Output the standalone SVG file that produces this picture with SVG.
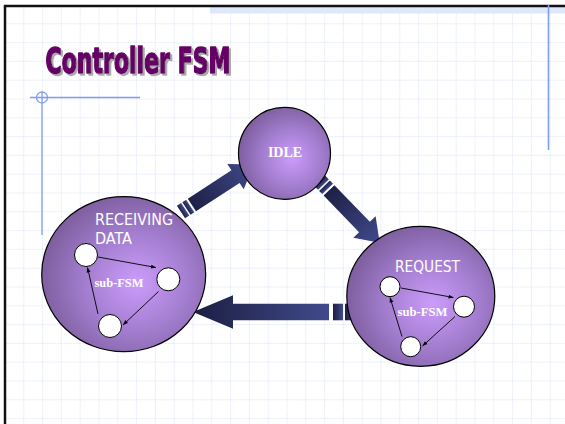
<svg xmlns="http://www.w3.org/2000/svg" width="565" height="424" viewBox="0 0 565 424">
  <defs>
    <pattern id="grid" x="4.5" y="4.5" width="18.8" height="18.8" patternUnits="userSpaceOnUse">
      <path d="M0,0.5 H18.8 M0.5,0 V18.8" fill="none" stroke="#e3e9f8" stroke-width="1" stroke-dasharray="1.5,1"/>
    </pattern>
    <radialGradient id="ball" cx="0.58" cy="0.55" r="0.6">
      <stop offset="0" stop-color="#cc9cfb"/>
      <stop offset="0.55" stop-color="#a17ccd"/>
      <stop offset="1" stop-color="#7c5d9c"/>
    </radialGradient>
    <linearGradient id="arrL2R" x1="0" y1="0" x2="1" y2="0">
      <stop offset="0" stop-color="#1e2046"/>
      <stop offset="1" stop-color="#414a8d"/>
    </linearGradient>
    <linearGradient id="arrR2L" x1="0" y1="0" x2="1" y2="0">
      <stop offset="0" stop-color="#414a8d"/>
      <stop offset="1" stop-color="#1c1e42"/>
    </linearGradient>
    <filter id="shadow" x="-5%" y="-20%" width="115%" height="150%">
      <feOffset in="SourceAlpha" dx="2" dy="2" result="off"/>
      <feFlood flood-color="#aaaaaa"/>
      <feComposite in2="off" operator="in" result="sh"/>
      <feMerge>
        <feMergeNode in="sh"/>
        <feMergeNode in="SourceGraphic"/>
      </feMerge>
    </filter>
    <marker id="tip" viewBox="0 0 10 10" refX="10" refY="5" markerWidth="5" markerHeight="5" markerUnits="userSpaceOnUse" orient="auto">
      <path d="M0,1 L10,5 L0,9 Z" fill="#000"/>
    </marker>
    <style>
      .sub { fill: #fff; stroke: #000; stroke-width: 1; }
      .subedge { stroke: #000; stroke-width: 0.9; fill: none; marker-end: url(#tip); }
      .ball { fill: url(#ball); stroke: #000; stroke-width: 1.2; }
      .lbl { font-family: "DejaVu Sans Condensed", "DejaVu Sans", sans-serif; fill: #fff; font-size: 15px; }
      .serif { font-family: "Liberation Serif", serif; font-weight: bold; fill: #fff; }
      .deco { stroke: #7f9df0; stroke-width: 1.3; fill: none; }
    </style>
  </defs>

  <!-- background -->
  <rect width="565" height="424" fill="#fff"/>
  <rect x="5" y="5" width="560" height="419" fill="url(#grid)"/>
  <rect x="210" y="7" width="355" height="6.5" fill="#dfe7fc"/>
  <line x1="4" y1="6" x2="565" y2="6" stroke="#111" stroke-width="2.5"/>
  <line x1="5" y1="5" x2="5" y2="424" stroke="#111" stroke-width="2.5"/>
  <line x1="548.5" y1="5" x2="548.5" y2="150" stroke="#7f9df0" stroke-width="1.6"/>
  <g id="decor-left">
    <line class="deco" x1="30" y1="97.5" x2="140" y2="97.5"/>
    <line class="deco" x1="42" y1="92" x2="42" y2="235"/>
    <circle class="deco" cx="42" cy="97.5" r="5.5"/>
  </g>

  <!-- title -->
  <g id="title" filter="url(#shadow)">
    <text x="45.5" y="73" font-family="DejaVu Sans Condensed, Liberation Sans Narrow, sans-serif" font-weight="bold" font-size="36" fill="#660066" stroke="#660066" stroke-width="1.6" stroke-linejoin="round" textLength="185" lengthAdjust="spacingAndGlyphs">Controller FSM</text>
  </g>

  <!-- connectors (big block arrows) -->
  <g id="connectors">
    <g id="arrow-receiving-idle" transform="translate(181,212) rotate(-33)" fill="url(#arrL2R)">
      <rect x="0" y="-7.5" width="5" height="15"/>
      <rect x="6.5" y="-7.5" width="4.5" height="15"/>
      <path d="M13,-7.5 H65 V-15 L87,0 L65,15 V7.5 H13 Z"/>
    </g>
    <g id="arrow-idle-request" transform="translate(320,181) rotate(46)" fill="url(#arrL2R)">
      <rect x="0" y="-7.5" width="5" height="15"/>
      <rect x="6.5" y="-7.5" width="4.5" height="15"/>
      <path d="M13,-7.5 H64 V-15.5 L86,0 L64,15.5 V7.5 H13 Z"/>
    </g>
    <g id="arrow-request-receiving" transform="translate(355,312) rotate(180)" fill="url(#arrR2L)">
      <rect x="0" y="-8.3" width="10" height="16.6"/>
      <rect x="12" y="-8.3" width="10" height="16.6"/>
      <path d="M26,-8.3 H122 V-16.7 L162,0 L122,16.7 V8.3 H26 Z"/>
    </g>
  </g>

  <!-- IDLE -->
  <g id="node-idle">
    <circle class="ball" cx="284.5" cy="153.3" r="46"/>
    <text class="serif" x="285" y="157" font-size="14" text-anchor="middle">IDLE</text>
  </g>

  <!-- RECEIVING DATA -->
  <g id="node-receiving">
    <ellipse class="ball" cx="123.7" cy="274.2" rx="82" ry="77.5"/>
    <text class="lbl" x="95" y="225" textLength="78" lengthAdjust="spacingAndGlyphs">RECEIVING</text>
    <text class="lbl" x="95" y="243.5" textLength="37" lengthAdjust="spacingAndGlyphs">DATA</text>
    <line class="subedge" x1="98" y1="257" x2="156" y2="267.5"/>
    <line class="subedge" x1="158.5" y1="291.5" x2="123" y2="325"/>
    <line class="subedge" x1="98" y1="314" x2="87.5" y2="267.5"/>
    <circle class="sub" cx="86" cy="255" r="11.5"/>
    <circle class="sub" cx="168.3" cy="279.3" r="11.5"/>
    <circle class="sub" cx="110" cy="326" r="11.5"/>
    <text class="serif" x="94.5" y="286.5" font-size="12.4" textLength="49" lengthAdjust="spacingAndGlyphs">sub-FSM</text>
  </g>

  <!-- REQUEST -->
  <g id="node-request">
    <ellipse class="ball" cx="420.8" cy="296.3" rx="74" ry="70"/>
    <text class="lbl" x="395" y="271.7" textLength="65" lengthAdjust="spacingAndGlyphs">REQUEST</text>
    <line class="subedge" x1="401" y1="288" x2="453.5" y2="297.5"/>
    <line class="subedge" x1="455" y1="316.5" x2="422.5" y2="346"/>
    <line class="subedge" x1="402" y1="336.5" x2="390" y2="297.5"/>
    <circle class="sub" cx="390" cy="286.7" r="10"/>
    <circle class="sub" cx="464" cy="306.7" r="10.5"/>
    <circle class="sub" cx="410.7" cy="346.7" r="10"/>
    <text class="serif" x="397.5" y="316" font-size="12.4" textLength="50" lengthAdjust="spacingAndGlyphs">sub-FSM</text>
  </g>
</svg>
